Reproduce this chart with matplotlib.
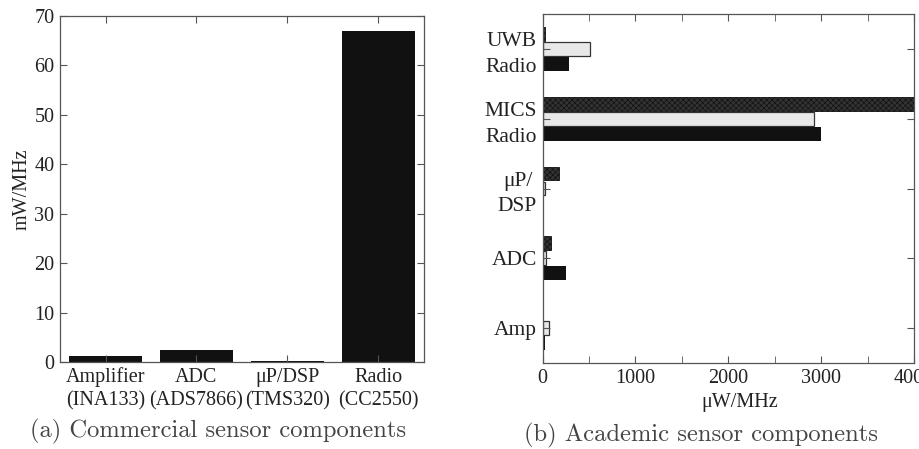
import numpy as np
import matplotlib
matplotlib.use("Agg")
import matplotlib.pyplot as plt
from matplotlib.ticker import MultipleLocator

# Commercial components (mW/MHz)
commercial_labels = ["Amplifier\n(INA133)", "ADC\n(ADS7866)", "\u03bcP/DSP\n(TMS320)", "Radio\n(CC2550)"]
commercial_mw = [1.2, 2.4, 0.3, 67.0]

# Academic components (uW/MHz), bottom group first
academic_labels = ["Amp", "ADC", "\u03bcP/\nDSP", "MICS\nRadio", "UWB\nRadio"]
academic_top = [8, 95, 180, 4300, 20]      # dark hatched bars
academic_mid = [65, 35, 30, 2920, 505]     # light bars
academic_bot = [28, 250, 0, 3000, 285]     # black bars

plt.rcParams['font.family'] = ['Liberation Serif', 'DejaVu Serif']
plt.rcParams['font.size'] = 14.5
plt.rcParams['hatch.linewidth'] = 0.5

spine_col = "#555555"
text_col = "#222222"

fig = plt.figure(figsize=(9.19, 4.49), dpi=100)

# (a) commercial
ax1 = fig.add_axes([0.0653, 0.1938, 0.396, 0.7706])
xpos = np.arange(1, len(commercial_mw) + 1)
ax1.bar(xpos, commercial_mw, width=0.8, color="#111111")
ax1.set_xlim(0.5, 4.5)
ax1.set_ylim(0, 70)
ax1.set_xticks(xpos)
ax1.set_xticklabels(commercial_labels, linespacing=1.3)
ax1.set_yticks(range(0, 71, 10))
ax1.set_ylabel("mW/MHz", color=text_col, labelpad=2)

# (b) academic
ax2 = fig.add_axes([0.5905, 0.1915, 0.404, 0.7773])
ypos = np.arange(1, len(academic_labels) + 1)
h = 0.2
off = 0.215
ax2.barh(ypos + off, academic_top, height=h, color="#333333", edgecolor="#111111",
         hatch="xxxxxx", linewidth=0.6)
ax2.barh(ypos, academic_mid, height=h, color="#e8e8e8", edgecolor="#333333", linewidth=0.9)
ax2.barh(ypos - off, academic_bot, height=h, color="#111111")
ax2.set_xlim(0, 4000)
ax2.set_ylim(0.5, 5.5)
ax2.set_yticks(ypos)
ax2.set_yticklabels(academic_labels, linespacing=1.45, multialignment="center",
                    fontsize=15.5)
ax2.xaxis.set_major_locator(MultipleLocator(1000))
ax2.xaxis.set_minor_locator(MultipleLocator(500))
ax2.set_xlabel("\u03bcW/MHz", color=text_col, labelpad=0)
ax2.xaxis.set_label_coords(0.53, -0.085)

for ax in (ax1, ax2):
    for s in ax.spines.values():
        s.set_color(spine_col)
        s.set_linewidth(0.9)
    ax.tick_params(which="both", direction="in", top=True, right=True,
                   color=spine_col, labelcolor=text_col, pad=4)
    ax.tick_params(which="major", length=5)
    ax.tick_params(which="minor", length=5)

ax2.tick_params(axis="x", pad=4)

# captions
fig.text(0.237, 0.038, "(a) Commercial sensor components", family="cmr10",
         fontsize=17.7, color="#444444", ha="center", va="center")
fig.text(0.763, 0.031, "(b) Academic sensor components", family="cmr10",
         fontsize=17.7, color="#444444", ha="center", va="center")

fig.savefig("out.png", dpi=100)
